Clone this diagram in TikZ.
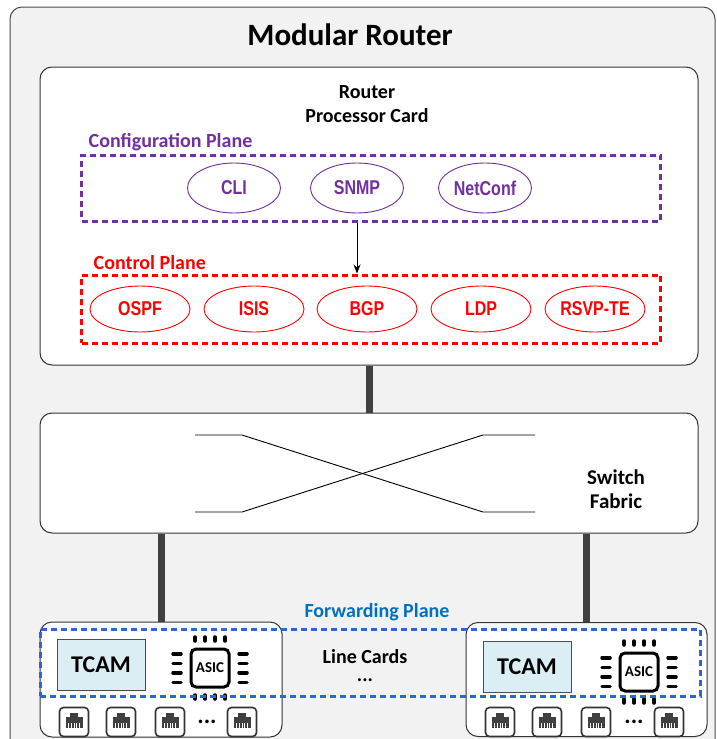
\documentclass[tikz,border=0pt]{standalone}
\usepackage{fontspec}
\setmainfont{Carlito}
\newfontfamily\narrowfont[FakeStretch=0.8]{Liberation Sans}
\usetikzlibrary{arrows.meta,shapes.geometric}
\definecolor{cfgpurple}{HTML}{7030A0}
\definecolor{ctlred}{HTML}{FF0000}
\definecolor{fwdblue}{HTML}{2F65CF}
\definecolor{fwdtext}{HTML}{0070C0}
\definecolor{bggray}{HTML}{F2F2F2}
\definecolor{linkgray}{HTML}{404040}
\definecolor{tcamblue}{HTML}{DAEEF3}
\begin{document}
\begin{tikzpicture}[x=1pt,y=-1pt,style=thick,
    card/.style={draw=black!80,fill=white,rounded corners=12pt,line width=1pt,inner sep=0pt},
    plane/.style={draw,line width=3pt,dash pattern=on 6pt off 4pt,inner sep=0pt},
    proto/.style={ellipse,draw,line width=0.9pt,inner sep=0pt,
      font=\narrowfont\bfseries\fontsize{20}{22}\selectfont},
    link/.style={draw=linkgray,line width=7pt},
    port/.style={draw=black!80,rounded corners=4pt,line width=1.6pt,minimum size=29pt,inner sep=0pt},
    tcam/.style={draw=black!70,fill=tcamblue,line width=1pt,minimum width=88pt,minimum height=51pt,
      font=\bfseries\fontsize{24}{26}\selectfont},
    asic/.style={draw,rounded corners=5pt,line width=3pt,minimum size=38pt,inner sep=0pt,
      font=\bfseries\fontsize{15}{17}\selectfont},
    pin/.style={line width=3.5pt,line cap=round},
    lbl/.style={font=\bfseries\fontsize{20}{24}\selectfont}]
    \useasboundingbox (0,0) rectangle (716,739);
    \draw[fill=bggray,draw=black!70,rounded corners=12pt,line width=1pt] (10,7) rectangle (715,770);
    \node[font=\bfseries\fontsize{31}{34}\selectfont] (title) at (350,35) {Modular Router};

    % router processor card
    \node[card,minimum width=658pt,minimum height=298pt] (rpc) at (369,216) {};
    \node[lbl,align=center] (rpclabel) at (367,104) {Router\\Processor Card};
    \node[lbl,text=cfgpurple,anchor=west] (cfglabel) at (85,142) {Configuration Plane};
    \node[plane,draw=cfgpurple,minimum width=579pt,minimum height=66pt] (cfg) at (371,188) {};
    \foreach \name/\x/\txt in {cli/234/CLI,snmp/357/SNMP,netconf/485/NetConf}
      \node[proto,cfgpurple,minimum width=93pt,minimum height=50pt] (\name) at (\x,188) {\txt};
    \node[lbl,text=ctlred,anchor=west] (ctllabel) at (90,263) {Control Plane};
    \node[plane,draw=ctlred,minimum width=579pt,minimum height=68pt] (ctl) at (371,309) {};
    \foreach \name/\x/\txt in {ospf/140/OSPF,isis/254/ISIS,bgp/367/BGP,ldp/481/LDP,rsvp/595/RSVP-TE}
      \node[proto,ctlred,minimum width=100pt,minimum height=46pt] (\name) at (\x,309) {\txt};
    \draw[-{Stealth[length=9pt,width=7pt]},line width=0.8pt] (snmp |- cfg.south) -- (snmp |- ctl.north);

    % switch fabric
    \node[card,minimum width=658pt,minimum height=120pt] (fabric) at (369,473) {};
    \draw[line width=0.9pt] (195,435) -- (242,435) -- (483,512) -- (535,512);
    \draw[line width=0.9pt] (195,512) -- (242,512) -- (483,435) -- (535,435);
    \node[font=\bfseries\fontsize{21}{24}\selectfont,align=center] (fabriclabel) at (616,489) {Switch\\Fabric};
    \draw[link] (rpc.south) -- (fabric.north);

    % line cards
    \node[card,minimum width=242pt,minimum height=115pt] (lc1) at (161,679.5) {};
    \node[card,minimum width=241pt,minimum height=114pt] (lc2) at (586.5,679.5) {};
    \draw[link] (fabric.south -| lc1.north) -- (lc1.north);
    \draw[link] (fabric.south -| lc2.north) -- (lc2.north);
    \node[font=\bfseries\fontsize{20}{22}\selectfont,text=fwdtext] (fwdlabel) at (377,612) {Forwarding Plane};
    \node[tcam] (tcam1) at (101,664.5) {TCAM};
    \node[tcam] (tcam2) at (527,666.5) {TCAM};
    \node[asic] (asic1) at (210,668) {ASIC};
    \node[asic] (asic2) at (639,672) {ASIC};
    \foreach \ax/\ay in {210/668,639/672}{
        \foreach \i in {-15,-5,5,15}{
            \draw[pin] (\ax+\i,\ay-31) -- (\ax+\i,\ay-27);
            \draw[pin] (\ax+\i,\ay+27) -- (\ax+\i,\ay+31);
            \draw[pin] (\ax-37,\ay+0.95*\i) -- (\ax-29,\ay+0.95*\i);
            \draw[pin] (\ax+29,\ay+0.95*\i) -- (\ax+37,\ay+0.95*\i);
          }
      }
    \node[plane,draw=fwdblue,minimum width=660pt,minimum height=67pt] (fwd) at (370,662.5) {};
    \node[font=\bfseries\fontsize{20}{18}\selectfont,align=center] (lclabel) at (365,666) {Line Cards\\...};

    % ports
    \foreach \name/\px in {pa/74,pb/121,pc/170,pd/242,pe/500,pf/547,pg/596,ph/669}{
        \node[port] (\name) at (\px,722) {};
        \fill[linkgray] (\px-4,712.5) rectangle (\px+4,717.5);
        \fill[linkgray] (\px-8.5,717) rectangle (\px+8.5,727.5);
        \foreach \k in {-5.5,-2.75,0,2.75,5.5}
          \draw[white,line width=0.8pt] (\px+\k,723) -- (\px+\k,727.5);
      }
    \node[font=\bfseries\fontsize{24}{24}\selectfont] (dots1) at (207,722) {...};
    \node[font=\bfseries\fontsize{24}{24}\selectfont] (dots2) at (634,722) {...};
  \end{tikzpicture}
\end{document}
